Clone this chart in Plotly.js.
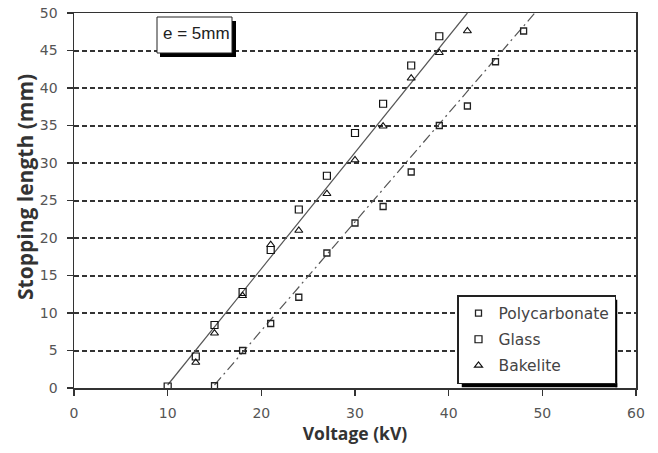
<!DOCTYPE html>
<html>
<head>
<meta charset="utf-8">
<script src="https://cdn.plot.ly/plotly-3.0.1.min.js"></script>
<style>
html,body{margin:0;padding:0;background:#fff;}
#chart{width:658px;height:453px;}
</style>
</head>
<body>
<div id="chart"></div>
<script>
// Data
var polyX = [15, 18, 21, 24, 27, 30, 33, 36, 39, 42, 45, 48];
var polyY = [0.3, 5.0, 8.6, 12.1, 18.0, 22.0, 24.2, 28.8, 35.0, 37.6, 43.5, 47.6];

var glassX = [10, 13, 15, 18, 21, 24, 27, 30, 33, 36, 39];
var glassY = [0.2, 4.2, 8.4, 12.8, 18.4, 23.8, 28.3, 34.0, 37.9, 43.0, 46.9];

var bakeX = [13, 15, 18, 21, 24, 27, 30, 33, 36, 39, 42];
var bakeY = [3.4, 7.3, 12.3, 19.1, 21.0, 25.9, 30.4, 34.9, 41.3, 44.7, 47.6];

// Fit lines (end points)
var fitSolidX = [10, 42];
var fitSolidY = [0.4, 50];
var fitDashX = [15, 49.2];
var fitDashY = [0.4, 50];

var xTicks = [0, 10, 20, 30, 40, 50, 60];
var yTicks = [0, 5, 10, 15, 20, 25, 30, 35, 40, 45, 50];

var lineCol = '#555555';
var traces = [
  {x: fitSolidX, y: fitSolidY, mode: 'lines', line: {color: lineCol, width: 1.2}, showlegend: false, hoverinfo: 'skip'},
  {x: fitDashX, y: fitDashY, mode: 'lines', line: {color: lineCol, width: 1.2, dash: '10px,4px,2px,4px'}, showlegend: false, hoverinfo: 'skip'},
  {x: polyX, y: polyY, mode: 'markers', name: 'Polycarbonate', legendgroup: 'a',
   marker: {symbol: 'square-open', size: 6, color: '#222', line: {width: 1.3}}},
  {x: glassX, y: glassY, mode: 'markers', name: 'Glass', legendgroup: 'b',
   marker: {symbol: 'square-open', size: 7, color: '#111', line: {width: 1.2}}},
  {x: bakeX, y: bakeY, mode: 'markers', name: 'Bakelite', legendgroup: 'c',
   marker: {symbol: 'triangle-up-open', size: 7, color: '#111', line: {width: 1.2}}}
];

var tickFont = {family: 'DejaVu Sans, Verdana, sans-serif', size: 14, color: '#555'};
var L = 74, T = 13, PW = 562, PH = 375;

var layout = {
  width: 658, height: 453,
  margin: {l: L, r: 658 - L - PW, t: T, b: 453 - T - PH},
  paper_bgcolor: '#fff', plot_bgcolor: '#fff',
  showlegend: true,
  legend: {
    x: 542/562, y: 0.248, xanchor: 'right', yanchor: 'top',
    bgcolor: '#fff', bordercolor: '#222', borderwidth: 1.5,
    font: {family: 'DejaVu Sans, Verdana, sans-serif', size: 15.5, color: '#444'},
    tracegroupgap: 3, itemwidth: 30
  },
  xaxis: {
    range: [0, 60], tickvals: xTicks, ticktext: xTicks.map(String),
    showgrid: false, zeroline: false,
    showline: true, linecolor: '#333', linewidth: 1.5, mirror: true,
    ticks: 'outside', ticklen: 6, tickcolor: '#333', tickwidth: 1.2,
    ticklabelstandoff: 6,
    tickfont: tickFont,
    title: {text: 'Voltage (kV)', font: {family: 'Open Sans, Arial, sans-serif', size: 17.5, color: '#333', weight: 'bold'}, standoff: 2}
  },
  yaxis: {
    range: [0, 50], tickvals: yTicks, ticktext: yTicks.map(String),
    showgrid: true, gridcolor: '#333', gridwidth: 2, griddash: '5px,3px',
    zeroline: false,
    showline: true, linecolor: '#333', linewidth: 1.5, mirror: true,
    ticks: 'outside', ticklen: 6, tickcolor: '#333', tickwidth: 1.2,
    ticklabelstandoff: 6,
    tickfont: tickFont
  },
  shapes: [
    // shadow for annotation box
    {type: 'rect', xref: 'paper', yref: 'paper', x0: 86/PW, x1: 162/PW, y0: 1 - 44/PH, y1: 1 - 8/PH,
     fillcolor: '#000', line: {width: 0}},
    {type: 'rect', xref: 'paper', yref: 'paper', x0: 83/PW, x1: 158/PW, y0: 1 - 40/PH, y1: 1 - 4/PH,
     fillcolor: '#fff', line: {color: '#222', width: 1}}
  ],
  annotations: [
    {text: 'e = 5mm', xref: 'paper', yref: 'paper', x: 122/PW, y: 1 - 20/PH,
     xanchor: 'center', yanchor: 'middle', showarrow: false,
     font: {family: 'Liberation Sans, Arial, sans-serif', size: 17, color: '#222'}},
    {text: '<b>Stopping length (mm)</b>', xref: 'paper', yref: 'paper', x: (25 - L)/PW, y: (T + PH - 187)/PH,
     xanchor: 'center', yanchor: 'middle', textangle: -90, showarrow: false,
     font: {family: 'Open Sans, Arial, sans-serif', size: 21, color: '#333'}}
  ]
};

Plotly.newPlot('chart', traces, layout, {displayModeBar: false, staticPlot: true}).then(function (gd) {
  var bg = gd.querySelector('.legend .bg');
  if (!bg) return;
  var r = bg.getBoundingClientRect();
  var c = gd.getBoundingClientRect();
  function px(v) { return (v - c.left - L) / PW; }
  function py(v) { return (T + PH - (v - c.top)) / PH; }
  var sh = layout.shapes.slice();
  sh.push({type: 'rect', xref: 'paper', yref: 'paper', x0: px(r.left + 4), x1: px(r.right + 2), y0: py(r.bottom + 4), y1: py(r.bottom),
           fillcolor: '#000', line: {width: 0}});
  sh.push({type: 'rect', xref: 'paper', yref: 'paper', x0: px(r.right), x1: px(r.right + 2), y0: py(r.bottom + 4), y1: py(r.top + 4),
           fillcolor: '#000', line: {width: 0}});
  return Plotly.relayout(gd, {shapes: sh});
});
</script>
</body>
</html>
